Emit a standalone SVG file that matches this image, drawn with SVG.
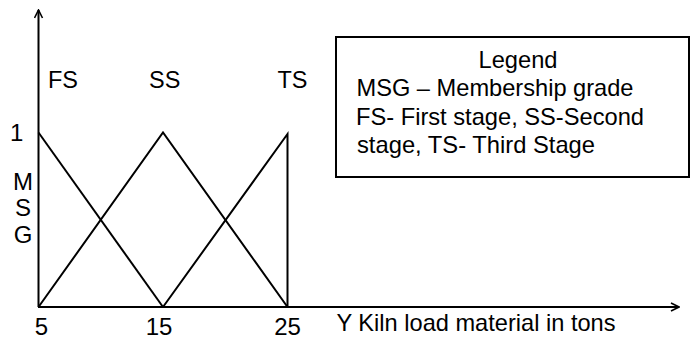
<svg xmlns="http://www.w3.org/2000/svg" width="690" height="339" viewBox="0 0 690 339">
<defs>
<style>
.t{font-family:"Liberation Sans",Arial,sans-serif;font-size:24px;fill:#000}
.ln{stroke:#000;stroke-width:2;fill:none}
.ax{stroke:#000;stroke-width:2;fill:none}
</style>
<marker id="arr" viewBox="0 0 10 10" refX="9" refY="5" markerWidth="10" markerHeight="10" markerUnits="userSpaceOnUse" orient="auto">
<path d="M1,1 L9,5 L1,9" fill="none" stroke="#000" stroke-width="1.6"/>
</marker>
</defs>
<rect width="690" height="339" fill="#fff"/>
<g id="axes">
<line class="ax" x1="38.5" y1="307" x2="38.5" y2="10" marker-end="url(#arr)"/>
<line class="ax" x1="38" y1="307" x2="679" y2="307" marker-end="url(#arr)"/>
</g>
<g id="connectors">
<polyline class="ln" points="38.5,132.5 163,307"/>
<polyline class="ln" points="38.5,307 163,132.5 287.5,307"/>
<polyline class="ln" points="163,307 287.5,134 287.5,307"/>
</g>
<g id="labels">
<text class="t" x="48" y="88" textLength="30" lengthAdjust="spacingAndGlyphs">FS</text>
<text class="t" x="149" y="88" textLength="31.3" lengthAdjust="spacingAndGlyphs">SS</text>
<text class="t" x="277.5" y="88" textLength="30" lengthAdjust="spacingAndGlyphs">TS</text>
<text class="t" x="10" y="141">1</text>
<text class="t" x="23" y="190" text-anchor="middle">M</text>
<text class="t" x="23" y="216" text-anchor="middle">S</text>
<text class="t" x="23" y="243" text-anchor="middle">G</text>
<text class="t" x="41.5" y="335" text-anchor="middle">5</text>
<text class="t" x="159" y="335" text-anchor="middle">15</text>
<text class="t" x="287.5" y="335" text-anchor="middle">25</text>
<text class="t" x="336.5" y="331" textLength="279" lengthAdjust="spacingAndGlyphs">Y Kiln load material in tons</text>
</g>
<g id="legend">
<rect x="336" y="37" width="353" height="140" fill="none" stroke="#000" stroke-width="2"/>
<text class="t" x="518" y="68" text-anchor="middle" textLength="79" lengthAdjust="spacingAndGlyphs">Legend</text>
<text class="t" x="356.5" y="96" textLength="277" lengthAdjust="spacingAndGlyphs">MSG – Membership grade</text>
<text class="t" x="356" y="124.5" textLength="288" lengthAdjust="spacingAndGlyphs">FS- First stage, SS-Second</text>
<text class="t" x="357" y="153" textLength="238" lengthAdjust="spacingAndGlyphs">stage, TS- Third Stage</text>
</g>
</svg>
